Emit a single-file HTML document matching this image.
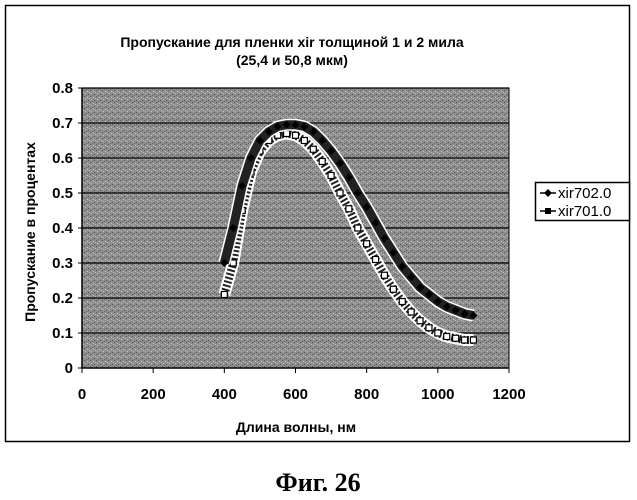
<!DOCTYPE html>
<html><head><meta charset="utf-8"><style>
body{margin:0;background:#fff;width:637px;height:500px;overflow:hidden;font-family:"Liberation Sans","Noto Sans CJK SC",sans-serif}
svg{position:absolute;left:0;top:0}
</style></head><body>
<svg id="chart" width="637" height="500" viewBox="0 0 637 500">
<defs>
<pattern id="grain" width="6" height="6" patternUnits="userSpaceOnUse">
<rect width="6" height="6" fill="#8e8e8e"/>
<rect x="0" y="0" width="1" height="1" fill="#555"/>
<rect x="3" y="1" width="1" height="1" fill="#c8c8c8"/>
<rect x="1" y="3" width="1" height="1" fill="#c0c0c0"/>
<rect x="4" y="4" width="1" height="1" fill="#505050"/>
<rect x="2" y="5" width="1" height="1" fill="#666"/>
<rect x="5" y="2" width="1" height="1" fill="#bbb"/>
</pattern>
</defs>
<rect x="5.5" y="5.5" width="624" height="436" fill="#fff" stroke="#000" stroke-width="1.5"/>
<text x="292" y="47" text-anchor="middle" font-size="14" font-weight="bold">Пропускание для пленки xir толщиной 1 и 2 мила</text>
<text x="292" y="65" text-anchor="middle" font-size="14" font-weight="bold">(25,4 и 50,8 мкм)</text>
<rect x="82" y="88" width="427" height="280" fill="url(#grain)"/>
<g id="grid"></g>
<g id="axes"></g>
<g id="series"></g>
<text transform="translate(35,232) rotate(-90)" text-anchor="middle" font-size="14" font-weight="bold">Пропускание в процентах</text>
<text x="296" y="432" text-anchor="middle" font-size="14" font-weight="bold">Длина волны, нм</text>
<g>
<rect x="535.5" y="182.5" width="94" height="38" fill="#fff" stroke="#000" stroke-width="1.5"/>
<g>
<line x1="540" y1="193" x2="556" y2="193" stroke="#000" stroke-width="1.5"/>
<path d="M548 189 L552 193 L548 197 L544 193Z" fill="#000"/>
<text x="558" y="198" font-size="15">xir702.0</text></g>
<g>
<line x1="540" y1="211" x2="556" y2="211" stroke="#000" stroke-width="1.5"/>
<rect x="545" y="208" width="6" height="6" fill="#000"/>
<text x="558" y="216" font-size="15">xir701.0</text></g>
</g>
<text x="318" y="491" text-anchor="middle" font-size="26" font-weight="bold" font-family="Liberation Serif, serif">Фиг.  26</text>
</svg>
<script>
const wavelengths=[400,425,450,475,500,525,550,575,600,625,650,675,700,725,750,775,800,825,850,875,900,925,950,975,1000,1025,1050,1075,1100];
const xir702=[.30,.40,.52,.60,.65,.675,.69,.695,.695,.69,.675,.65,.62,.585,.545,.50,.46,.415,.37,.33,.29,.26,.23,.21,.19,.175,.165,.155,.15];
const xir701=[.21,.30,.45,.56,.62,.65,.665,.67,.665,.65,.625,.59,.55,.50,.455,.40,.355,.31,.265,.225,.19,.16,.135,.115,.10,.09,.085,.08,.08];
const xTicks=[0,200,400,600,800,1000,1200];
const yTicks=[0,0.1,0.2,0.3,0.4,0.5,0.6,0.7,0.8];
const NS="http://www.w3.org/2000/svg";
const X0=82,X1=509,Y0=368,Y1=88;
function xs(v){return X0+(v-0)/1200*(X1-X0);}
function ys(v){return Y0-(v/0.8)*(Y0-Y1);}
function mk(tag,attrs,parent){const e=document.createElementNS(NS,tag);for(const k in attrs)e.setAttribute(k,attrs[k]);parent.appendChild(e);return e;}
const grid=document.getElementById('grid'),axes=document.getElementById('axes'),ser=document.getElementById('series');
yTicks.forEach(t=>{
 const y=ys(t);
 if(t>0){const g=mk('line',{x1:X0,x2:X1,y1:y,y2:y,stroke:'#000','stroke-width':1.2},grid);
 
 }
 const l=mk('text',{x:X0-9,y:y+5,'text-anchor':'end','font-size':15,'font-weight':'bold'},axes);
 l.textContent=(t===0?'0':t.toFixed(1));
 
 
 mk('line',{x1:X0-4,x2:X0,y1:y,y2:y,stroke:'#000'},axes);
});
xTicks.forEach(t=>{
 const x=xs(t);
 const l=mk('text',{x:x,y:Y0+31,'text-anchor':'middle','font-size':15,'font-weight':'bold'},axes);
 l.textContent=t;
 
 
 mk('line',{x1:x,x2:x,y1:Y0,y2:Y0+5,stroke:'#000'},axes);
});
mk('line',{x1:X0,x2:X0,y1:Y1,y2:Y0,stroke:'#000','stroke-width':1.5},axes);
mk('line',{x1:X0,x2:X1,y1:Y0,y2:Y0,stroke:'#000','stroke-width':1.5},axes);
mk('rect',{x:X0,y:Y1,width:X1-X0,height:Y0-Y1,fill:'none',stroke:'#000','stroke-width':1},axes);
function drawSeries(vals,name,square){
 const g=mk('g',{},ser);
 
 
 const pts=wavelengths.map((w,i)=>xs(w)+','+ys(vals[i])).join(' ');
 mk('polyline',{points:pts,fill:'none',stroke:'#fff','stroke-width':12,'stroke-linejoin':'round'},g);
 mk('polyline',{points:pts,fill:'none',stroke:'#222','stroke-width':square?8:9,'stroke-linejoin':'round','stroke-dasharray':square?'2 2':'none'},g);
 wavelengths.forEach((w,i)=>{
  const x=xs(w),y=ys(vals[i]);
  const m=square?mk('rect',{x:x-3,y:y-3,width:6,height:6,fill:'#fff',stroke:'#000','stroke-width':1.2},g)
   :mk('path',{d:`M${x} ${y-4}L${x+4} ${y}L${x} ${y+4}L${x-4} ${y}Z`,fill:'#000'},g);
  
  
 });
}
drawSeries(xir701,'series-xir701',true);
drawSeries(xir702,'series-xir702',false);
</script>
</body></html>
